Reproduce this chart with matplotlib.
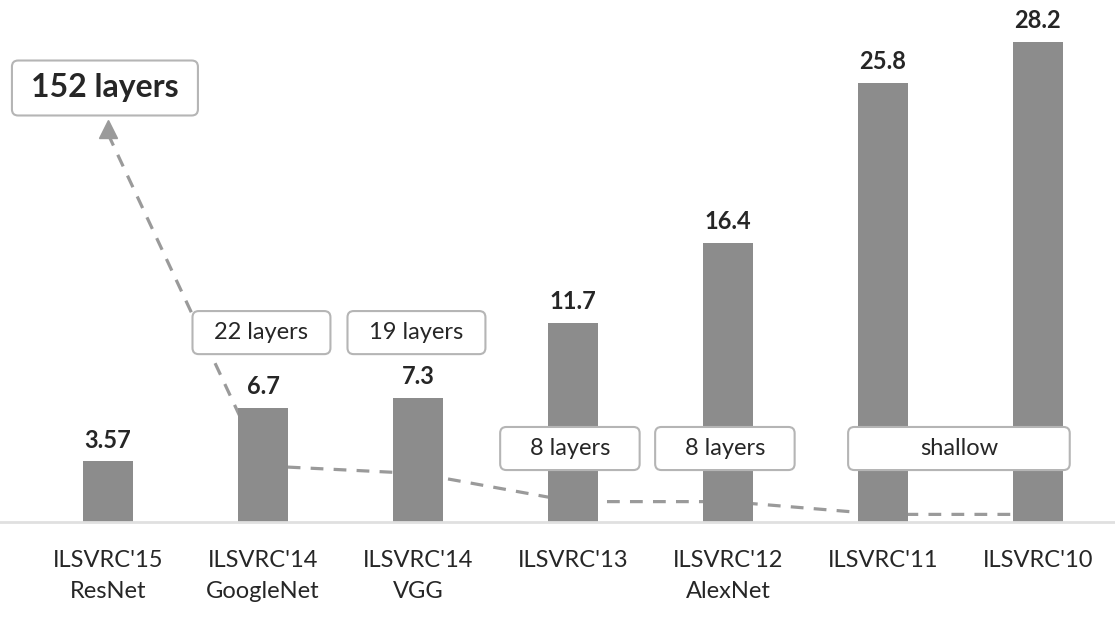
import matplotlib
matplotlib.use("Agg")
import matplotlib.pyplot as plt
from matplotlib.patches import FancyBboxPatch
import numpy as np

plt.rcParams['font.family'] = ['Lato', 'DejaVu Sans']

categories = ["ILSVRC'15\nResNet", "ILSVRC'14\nGoogleNet", "ILSVRC'14\nVGG",
              "ILSVRC'13", "ILSVRC'12\nAlexNet", "ILSVRC'11", "ILSVRC'10"]
error_rates = [3.57, 6.7, 7.3, 11.7, 16.4, 25.8, 28.2]
value_labels = ["3.57", "6.7", "7.3", "11.7", "16.4", "25.8", "28.2"]
layers = [152, 22, 19, 8, 8, 3, 3]          # "shallow" estimated as ~3
layer_labels = ["152 layers", "22 layers", "19 layers", "8 layers", "8 layers", "shallow"]

BAR = "#8c8c8c"
TXT = "#262626"
LINE = "#9a9a9a"
layer_scale = 0.15

fig = plt.figure(figsize=(11.15, 6.2), dpi=100)
ax = fig.add_axes([0, 0.158, 1, 0.842])
x = np.arange(len(categories))
ax.set_xlim(-0.697, 6.497)
ax.set_ylim(0, 30.67)

# dashed depth line (behind bars)
ly = np.array(layers) * layer_scale
ax.plot(x, ly, color=LINE, lw=2.3, dashes=[4, 3.2], zorder=1, solid_capstyle='butt')
ax.plot([x[0]], [ly[0] + 0.3], marker='^', ms=13, color=LINE, mec=LINE, zorder=1)

ax.bar(x, error_rates, width=0.32, color=BAR, zorder=2)
for xi, v, lab in zip(x, error_rates, value_labels):
    ax.annotate(lab, (xi, v), xytext=(0, 7), textcoords='offset points',
                ha='center', va='bottom', fontsize=17, fontweight='bold', color=TXT)

# label boxes: (x-center, y-center, width, height) in data units
box_specs = [(-0.02, 25.5, 1.2, 3.23, True, 23),
             (0.99, 11.13, 0.89, 2.53, False, 17),
             (1.99, 11.13, 0.89, 2.53, False, 17),
             (2.98, 4.32, 0.90, 2.53, False, 17),
             (3.98, 4.32, 0.90, 2.53, False, 17),
             (5.49, 4.32, 1.43, 2.53, False, 17)]
aspect = (1 / 17.02) / (1 / 155.0)
for (xc, yc, w, h, bold, fs), lab in zip(box_specs, layer_labels):
    p = FancyBboxPatch((xc - w / 2, yc - h / 2), w, h,
                       boxstyle="round,pad=0,rounding_size=0.04",
                       mutation_aspect=aspect,
                       fc='white', ec='#b5b5b5', lw=1.5, zorder=4)
    ax.add_patch(p)
    ax.text(xc, yc, lab, ha='center', va='center', fontsize=fs,
            fontweight='bold' if bold else 'normal', color=TXT, zorder=5)

for s in ['top', 'right', 'left']:
    ax.spines[s].set_visible(False)
ax.spines['bottom'].set_color('#e0e0e0')
ax.spines['bottom'].set_linewidth(2)
ax.set_yticks([])
ax.set_xticks(x)
ax.set_xticklabels(categories, fontsize=17, color=TXT, linespacing=1.6)
ax.tick_params(axis='x', length=0, pad=20)

fig.savefig("out.png", dpi=100)
